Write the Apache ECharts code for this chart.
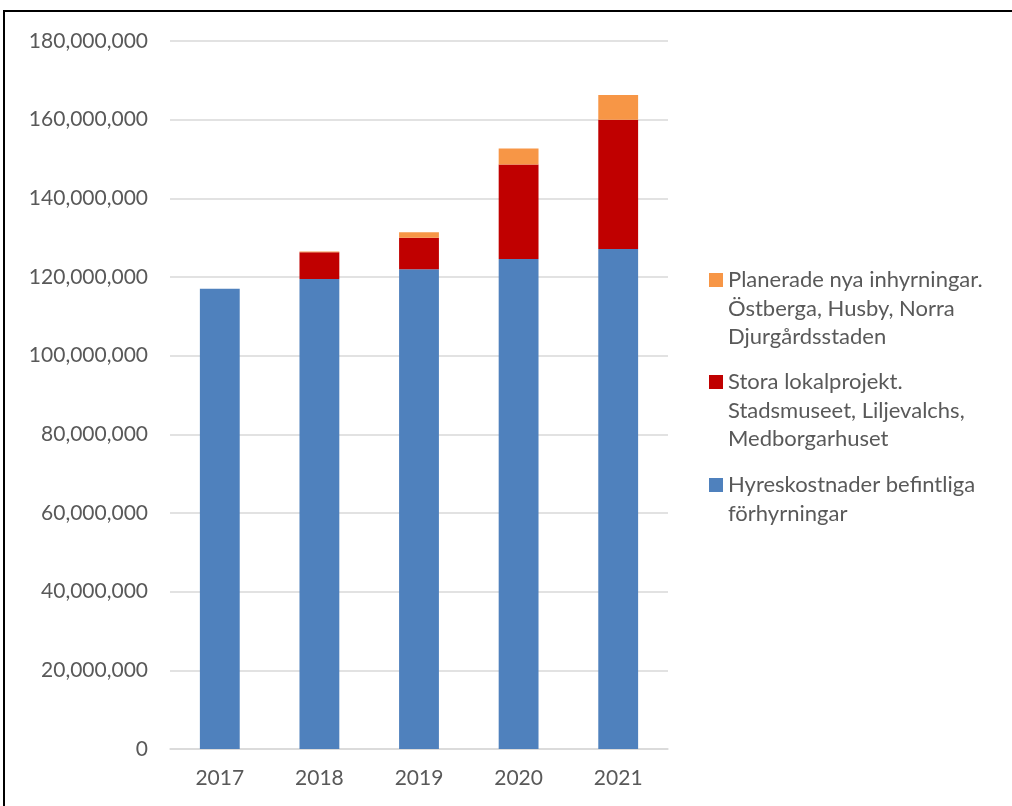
<!DOCTYPE html>
<html>
<head>
<meta charset="utf-8">
<script src="https://cdn.jsdelivr.net/npm/echarts@6/dist/echarts.min.js"></script>
<style>
html, body { margin: 0; padding: 0; background: #fff; }
#chart { width: 1012px; height: 806px; }
</style>
</head>
<body>
<div id="chart"></div>
<script>
var years = ['2017', '2018', '2019', '2020', '2021'];
var hyres = [117000000, 119500000, 122000000, 124600000, 127100000];
var stora = [0, 6800000, 8000000, 24000000, 32900000];
var planerade = [0, 200000, 1400000, 4100000, 6300000];

var nameHyres = 'Hyreskostnader befintliga förhyrningar';
var nameStora = 'Stora lokalprojekt. Stadsmuseet, Liljevalchs, Medborgarhuset';
var namePlan = 'Planerade nya inhyrningar. Östberga, Husby, Norra Djurgårdsstaden';
var legendLines = {};
legendLines[namePlan] = ['Planerade nya inhyrningar.', 'Östberga, Husby, Norra', 'Djurgårdsstaden'];
legendLines[nameStora] = ['Stora lokalprojekt.', 'Stadsmuseet, Liljevalchs,', 'Medborgarhuset'];
legendLines[nameHyres] = ['Hyreskostnader befintliga', 'förhyrningar'];

var font = 'Lato, "Open Sans", sans-serif';
var lh = 28.5;

// one legend per item so the square sits beside the first text line
function makeLegend(name, centerY) {
    var n = legendLines[name].length;
    return {
        data: [name],
        left: 709,
        top: centerY - (2 * n - 1) * lh / 2,
        padding: 0,
        itemWidth: 14,
        itemHeight: 14,
        icon: 'rect',
        selectedMode: false,
        formatter: function (nm) {
            var l = legendLines[nm];
            var blank = '';
            for (var i = 1; i < l.length; i++) blank += ' \n';
            return blank + l.join('\n');
        },
        textStyle: {
            fontFamily: font,
            fontSize: 22,
            color: '#595959',
            lineHeight: lh
        }
    };
}

var chart = echarts.init(document.getElementById('chart'));
chart.setOption({
    animation: false,
    backgroundColor: '#fff',
    grid: { left: 170, right: 344, top: 41, bottom: 57 },
    legend: [
        makeLegend(namePlan, 280),
        makeLegend(nameStora, 382),
        makeLegend(nameHyres, 485)
    ],
    xAxis: {
        type: 'category',
        data: years,
        axisTick: { show: false },
        axisLine: { lineStyle: { color: '#d9d9d9', width: 1.5 } },
        axisLabel: { color: '#595959', fontFamily: font, fontSize: 21, margin: 19 }
    },
    yAxis: {
        type: 'value',
        min: 0,
        max: 180000000,
        interval: 20000000,
        axisLabel: {
            color: '#595959', fontFamily: font, fontSize: 21, margin: 22,
            formatter: function (v) { return v.toLocaleString('en-US'); }
        },
        splitLine: { lineStyle: { color: '#d9d9d9', width: 1.5 } }
    },
    graphic: [{
        type: 'rect',
        shape: { x: 4, y: 11, width: 1100, height: 900 },
        style: { fill: 'none', stroke: '#000', lineWidth: 2 },
        silent: true
    }],
    series: [
        { name: nameHyres, type: 'bar', stack: 's', data: hyres, barWidth: '40%',
          itemStyle: { color: '#4f81bd' } },
        { name: nameStora, type: 'bar', stack: 's', data: stora, barWidth: '40%',
          itemStyle: { color: '#c00000' } },
        { name: namePlan, type: 'bar', stack: 's', data: planerade, barWidth: '40%',
          itemStyle: { color: '#f79646' } }
    ]
});
</script>
</body>
</html>
